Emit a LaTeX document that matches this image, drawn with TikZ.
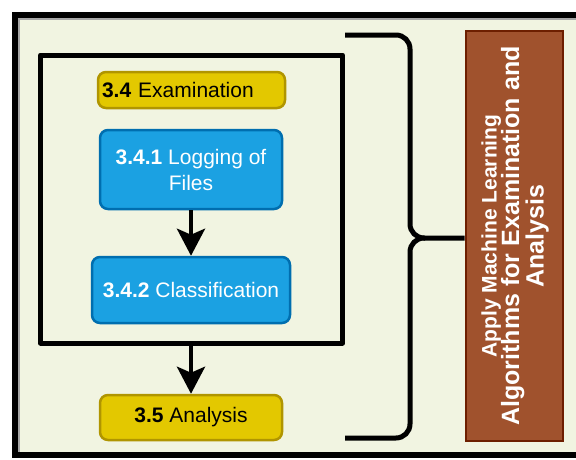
\documentclass[tikz,border=0pt]{standalone}
\usepackage{fontspec}
\setmainfont{Liberation Sans}
\usetikzlibrary{arrows.meta}
\definecolor{bgcream}{HTML}{F1F4E1}
\definecolor{stepyellow}{HTML}{E3C800}
\definecolor{stepyellowline}{HTML}{B09500}
\definecolor{stepblue}{HTML}{1BA1E2}
\definecolor{stepblueline}{HTML}{006EAF}
\definecolor{stepbrown}{HTML}{A0522D}
\definecolor{stepbrownline}{HTML}{6D1F00}
\tikzset{
  yellowbox/.style={draw=stepyellowline, fill=stepyellow, line width=2.5pt,
    rounded corners=8pt, text=black, align=center, inner sep=0pt,
    font=\fontsize{21}{25}\selectfont},
  bluebox/.style={draw=stepblueline, fill=stepblue, line width=2.5pt,
    rounded corners=8pt, text=white, align=center, inner sep=0pt,
    font=\fontsize{21}{26}\selectfont},
  flowarrow/.style={line width=4.5pt, -{Stealth[length=27pt,width=28pt,inset=6pt]}},
  thickline/.style={line width=5pt, line join=round}
}
\begin{document}
\begin{tikzpicture}[x=1pt,y=-1pt]
\useasboundingbox (0,0) rectangle (576,459);
% outer frame
\draw[line width=6pt, fill=bgcream] (15,14.5) rectangle (610,455);
\draw[black!35, line width=1.5pt] (19,452) -- (19,19) -- (610,19);
% examination group
\draw[thickline] (40.5,55) rectangle (342.5,343);
\node[yellowbox, minimum width=187pt, minimum height=36pt, text width=179pt,
  align=left, inner xsep=4pt] (exam) at (191.5,90) {\textbf{3.4} Examination};
\node[bluebox, minimum width=182pt, minimum height=79pt] (logging) at (191,169.5) {\textbf{3.4.1} Logging of\\Files};
\node[bluebox, minimum width=198pt, minimum height=66pt] (classif) at (191,290) {\textbf{3.4.2} Classification};
\node[yellowbox, minimum width=182pt, minimum height=45pt] (analysis) at (191,417.5) {\textbf{3.5} Analysis};
\coordinate (groupbottom) at (191,343);
\draw[flowarrow] (logging.south) -- (classif.north);
\draw[flowarrow] (groupbottom) -- (analysis.north);
% summary box
\node[draw=stepbrownline, fill=stepbrown, line width=2pt, minimum width=97pt, minimum height=410pt,
  inner sep=0pt] (summary) at (514,236) {};
\node[rotate=90, text=white, align=center, font=\bfseries] (summarytext) at ([xshift=1pt]summary.center)
  {{\fontsize{21}{27}\selectfont Apply Machine Learning}\\[-1pt]
   {\fontsize{25}{27}\selectfont Algorithms for Examination and}\\
   {\fontsize{25}{27}\selectfont Analysis}};
% brace
\coordinate (bracetop) at (345,35);
\coordinate (bracebot) at (345,438);
\draw[thickline, rounded corners=14pt] (bracetop) -- (410,35) -- (410,238) -- (summary.west |- 0,238);
\draw[thickline, rounded corners=14pt] (bracebot) -- (410,438) -- (410,238) -- (425,238);
\end{tikzpicture}
\end{document}
